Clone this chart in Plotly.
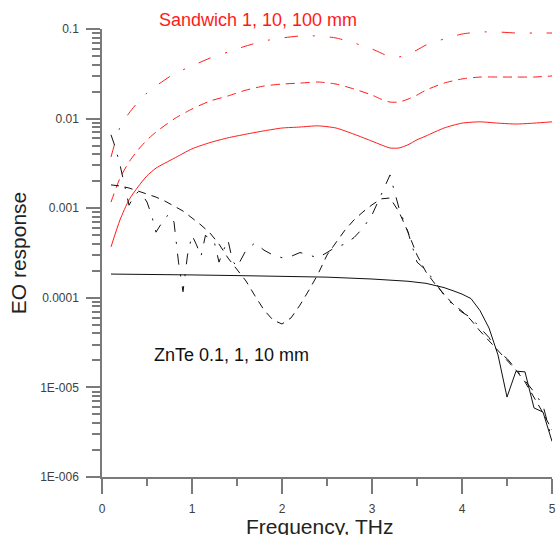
import plotly.graph_objects as go

# ---- data ----
x_red = [0.1, 0.2, 0.3, 0.4, 0.5, 0.6, 0.8, 1.0, 1.2, 1.4, 1.6, 1.8, 2.0, 2.2, 2.4, 2.6,
         2.8, 3.0, 3.1, 3.2, 3.3, 3.4, 3.5, 3.6, 3.8, 4.0, 4.2, 4.4, 4.6, 4.8, 5.0]
sandwich_1mm = [3.7e-4, 7.4e-4, 1.24e-3, 1.73e-3, 2.3e-3, 2.8e-3, 3.6e-3, 4.6e-3, 5.4e-3,
                6.1e-3, 6.7e-3, 7.3e-3, 7.85e-3, 8.05e-3, 8.3e-3, 7.85e-3, 6.7e-3, 5.6e-3,
                5.1e-3, 4.7e-3, 4.7e-3, 5.1e-3, 5.8e-3, 6.4e-3, 7.85e-3, 8.9e-3, 9.2e-3,
                8.9e-3, 8.7e-3, 8.9e-3, 9.2e-3]
sandwich_10mm = [1.17e-3, 2.17e-3, 3.28e-3, 4.47e-3, 5.77e-3, 7.08e-3, 9.9e-3, 1.28e-2,
                 1.57e-2, 1.79e-2, 2.08e-2, 2.31e-2, 2.43e-2, 2.49e-2, 2.56e-2, 2.43e-2,
                 2.14e-2, 1.83e-2, 1.65e-2, 1.53e-2, 1.53e-2, 1.65e-2, 1.83e-2, 2.08e-2,
                 2.49e-2, 2.77e-2, 2.91e-2, 2.91e-2, 2.91e-2, 2.91e-2, 2.99e-2]
sandwich_100mm = [3.73e-3, 8.0e-3, 1.15e-2, 1.53e-2, 1.93e-2, 2.31e-2, 3.15e-2, 3.87e-2,
                  4.74e-2, 5.53e-2, 6.46e-2, 7.35e-2, 7.94e-2, 8.36e-2, 8.36e-2, 7.94e-2,
                  6.98e-2, 5.98e-2, 5.4e-2, 4.87e-2, 4.87e-2, 5.26e-2, 5.83e-2, 6.63e-2,
                  7.73e-2, 8.79e-2, 9.26e-2, 9.26e-2, 9.02e-2, 9.02e-2, 9.02e-2]

x_znte_01 = [0.1, 0.5, 1.0, 1.5, 2.0, 2.5, 3.0, 3.4, 3.6, 3.8, 3.9, 4.0, 4.1, 4.2, 4.3,
             4.4, 4.5, 4.6, 4.7, 4.8, 4.9, 5.0]
znte_01mm = [1.84e-4, 1.83e-4, 1.8e-4, 1.77e-4, 1.75e-4, 1.7e-4, 1.62e-4, 1.53e-4, 1.45e-4,
             1.3e-4, 1.2e-4, 1.1e-4, 9.8e-5, 7.2e-5, 4.6e-5, 2.3e-5, 7.8e-6, 1.52e-5,
             1.49e-5, 5.9e-6, 5.3e-6, 2.5e-6]

x_znte_1 = [0.1, 0.2, 0.3, 0.4, 0.5, 0.6, 0.7, 0.8, 0.9, 1.0, 1.1, 1.2, 1.3, 1.4, 1.5,
            1.6, 1.7, 1.8, 1.9, 2.0, 2.1, 2.2, 2.3, 2.4, 2.5, 2.6, 2.7, 2.8, 2.9, 3.0,
            3.1, 3.2, 3.3, 3.4, 3.5, 3.6, 3.7, 3.8, 3.9, 4.0, 4.1, 4.2, 4.3, 4.4, 4.5,
            4.6, 4.7, 4.8, 4.9, 5.0]
znte_1mm = [1.82e-3, 1.77e-3, 1.68e-3, 1.56e-3, 1.44e-3, 1.33e-3, 1.2e-3, 1.05e-3, 9.3e-4,
            7.78e-4, 6.49e-4, 5.28e-4, 3.98e-4, 2.78e-4, 2.1e-4, 1.54e-4, 1.05e-4, 7.31e-5,
            5.65e-5, 5.1e-5, 5.96e-5, 8.3e-5, 1.22e-4, 1.84e-4, 3.0e-4, 4.1e-4, 5.7e-4,
            7.4e-4, 9.1e-4, 1.09e-3, 1.27e-3, 1.3e-3, 9.1e-4, 5.42e-4, 3.0e-4, 1.94e-4,
            1.43e-4, 1.1e-4, 8.5e-5, 7.1e-5, 5.65e-5, 4.26e-5, 3.3e-5, 2.55e-5, 2.02e-5,
            1.56e-5, 1.15e-5, 7.8e-6, 5.2e-6, 3.35e-6]

x_znte_10 = [0.10, 0.15, 0.20, 0.25, 0.30, 0.35, 0.40, 0.45, 0.50, 0.55, 0.60, 0.65, 0.70,
             0.75, 0.80, 0.85, 0.90, 0.95, 1.00, 1.05, 1.10, 1.15, 1.20, 1.25, 1.30, 1.35,
             1.40, 1.45, 1.50, 1.6, 1.7, 1.8, 1.9, 2.0, 2.1, 2.2, 2.3, 2.4, 2.5, 2.6, 2.7,
             2.8, 2.9, 3.0, 3.1, 3.2, 3.3, 3.4, 3.5, 3.6, 3.7, 3.8, 3.9, 4.0, 4.1, 4.2,
             4.3, 4.4, 4.5, 4.6, 4.7, 4.8, 4.9, 5.0]
znte_10mm = [6.6e-3, 4.7e-3, 3.05e-3, 1.82e-3, 1.08e-3, 1.33e-3, 1.52e-3, 1.4e-3, 1.17e-3,
             8.4e-4, 5.4e-4, 6.5e-4, 7.8e-4, 8.6e-4, 7.0e-4, 2.5e-4, 1.17e-4, 3.0e-4,
             5.0e-4, 3.9e-4, 2.9e-4, 5.0e-4, 4.4e-4, 4.1e-4, 2.5e-4, 3.4e-4, 4.4e-4,
             2.6e-4, 2.2e-4, 3.4e-4, 4.1e-4, 3.4e-4, 3.0e-4, 2.8e-4, 2.9e-4, 3.2e-4,
             3.0e-4, 2.8e-4, 3.2e-4, 3.7e-4, 3.97e-4, 4.7e-4, 6.0e-4, 8.4e-4, 1.4e-3,
             2.35e-3, 1.0e-3, 5.4e-4, 2.5e-4, 2.04e-4, 1.5e-4, 1.07e-4, 8.3e-5, 6.9e-5,
             6.0e-5, 4.6e-5, 3.6e-5, 2.5e-5, 2.1e-5, 1.6e-5, 1.2e-5, 8.9e-6, 6.3e-6, 2.6e-6]

x_ticks = [0, 1, 2, 3, 4, 5]
y_tickvals = [1e-1, 1e-2, 1e-3, 1e-4, 1e-5, 1e-6]
y_ticktext = ["0.1", "0.01", "0.001", "0.0001", "1E-005", "1E-006"]

RED = "#ff1a1a"
BLACK = "#111111"
AXIS = "#7a7a7a"
FONT = "Arial, Liberation Sans, sans-serif"

fig = go.Figure()
fig.add_trace(go.Scatter(x=x_red, y=sandwich_1mm, mode="lines",
                         line=dict(color=RED, width=1, shape="spline", smoothing=0.6)))
fig.add_trace(go.Scatter(x=x_red, y=sandwich_10mm, mode="lines",
                         line=dict(color=RED, width=1, dash="9px,6px", shape="spline", smoothing=0.6)))
fig.add_trace(go.Scatter(x=x_red, y=sandwich_100mm, mode="lines",
                         line=dict(color=RED, width=1, dash="13px,15px,2px,15px", shape="spline", smoothing=0.6)))
fig.add_trace(go.Scatter(x=x_znte_01, y=znte_01mm, mode="lines",
                         line=dict(color=BLACK, width=1)))
fig.add_trace(go.Scatter(x=x_znte_1, y=znte_1mm, mode="lines",
                         line=dict(color=BLACK, width=1, dash="8px,6px")))
fig.add_trace(go.Scatter(x=x_znte_10, y=znte_10mm, mode="lines",
                         line=dict(color=BLACK, width=1, dash="11px,10px,2px,10px")))

minor_y = [m * 10.0 ** e for e in range(-6, -1) for m in range(2, 10)]

fig.update_layout(
    width=556, height=535,
    margin=dict(l=102, r=4, t=29, b=58, autoexpand=False),
    paper_bgcolor="white", plot_bgcolor="white",
    showlegend=False,
    font=dict(family=FONT, color="#333333"),
    xaxis=dict(
        range=[0, 5], showgrid=False, zeroline=False,
        showline=True, linecolor=AXIS, linewidth=1.5,
        tickmode="array", tickvals=x_ticks,
        ticks="outside", ticklen=15, tickwidth=1.5, tickcolor=AXIS,
        ticklabelstandoff=5,
        tickfont=dict(size=12, color="#404040", family=FONT),
        minor=dict(tickmode="linear", tick0=0.5, dtick=1, ticks="outside",
                   ticklen=7, tickwidth=1.5, tickcolor=AXIS, showgrid=False),
        automargin=False,
    ),
    yaxis=dict(
        type="log", range=[-6, -1], showgrid=False, zeroline=False,
        showline=True, linecolor=AXIS, linewidth=1.5,
        tickmode="array", tickvals=y_tickvals, ticktext=y_ticktext,
        ticks="outside", ticklen=14, tickwidth=1.5, tickcolor=AXIS,
        ticklabelstandoff=5,
        tickfont=dict(size=12, color="#404040", family=FONT),
        minor=dict(tickmode="array", tickvals=minor_y, ticks="outside",
                   ticklen=8, tickwidth=1.5, tickcolor=AXIS, showgrid=False),
        title=dict(text="EO response", font=dict(size=21, color="#222222", family=FONT),
                   standoff=8),
        automargin=False,
    ),
    annotations=[
        dict(text="Sandwich 1, 10, 100 mm", x=1.73, xref="x", y=1.02, yref="paper",
             showarrow=False, font=dict(size=18, color="#ff1a1a", family=FONT),
             xanchor="center", yanchor="middle"),
        dict(text="ZnTe 0.1, 1, 10 mm", x=1.44, xref="x", y=-4.638, yref="y",
             showarrow=False, font=dict(size=18, color="#111111", family=FONT),
             xanchor="center", yanchor="middle"),
        # x-axis title, placed slightly left of centre as in the reference
        dict(text="Frequency, THz", x=2.42, xref="x", y=-0.11, yref="paper",
             showarrow=False, font=dict(size=21, color="#222222", family=FONT),
             xanchor="center", yanchor="middle"),
    ],
)

# remove the default page margin / scrollbars so the figure fills the window exactly
page_css = ("document.documentElement.style.margin='0';"
            "document.body.style.margin='0';"
            "document.documentElement.style.overflow='hidden';"
            "document.body.style.overflow='hidden';")
fig.write_html("out.html", post_script=page_css, config={"displayModeBar": False})
